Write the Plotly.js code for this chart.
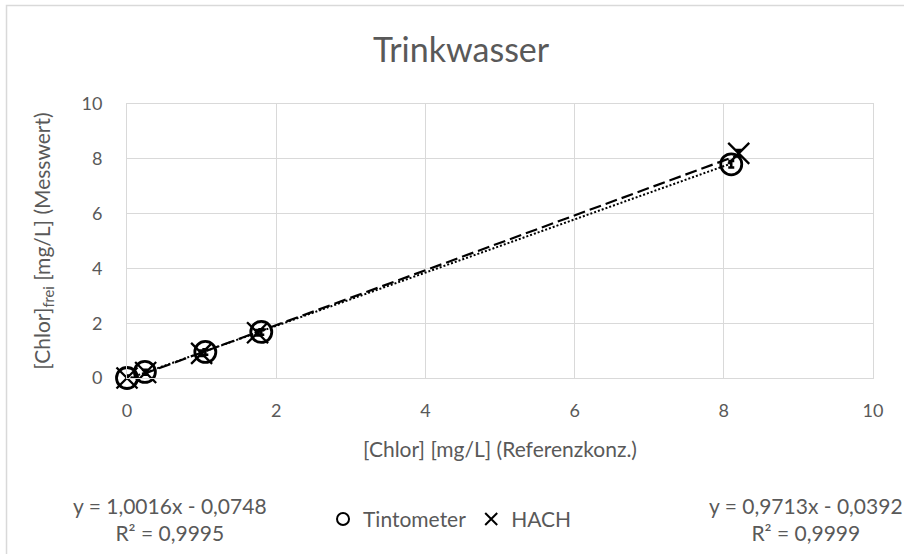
<!DOCTYPE html>
<html>
<head>
<meta charset="utf-8">
<script src="https://cdn.plot.ly/plotly-3.0.1.min.js"></script>
<style>
  html, body { margin: 0; padding: 0; background: #ffffff; }
  #chart { width: 904px; height: 554px; }
</style>
</head>
<body>
<div id="chart"></div>
<script>
// ---- data ----
const tintometerX = [0.0, 0.24, 1.05, 1.80, 8.10];
const tintometerY = [0.0, 0.22, 0.95, 1.68, 7.80];
const tintometerErr = [0.08, 0.08, 0.10, 0.10, 0.12];

const hachX = [0.0, 0.25, 1.00, 1.75, 8.20];
const hachY = [0.0, 0.20, 0.90, 1.65, 8.20];
const hachErr = [0.08, 0.08, 0.10, 0.10, 0.12];

// trendline equations as printed in the chart
const hachSlope = 1.0016, hachIntercept = -0.0748, hachR2 = 0.9995;
const tintSlope = 0.9713, tintIntercept = -0.0392, tintR2 = 0.9999;

const seriesNames = ["Tintometer", "HACH"];
const tickVals = [0, 2, 4, 6, 8, 10];
const tickText = ["0", "2", "4", "6", "8", "10"];

const FONT = "Lato, 'Open Sans', sans-serif";
const GREY = "#595959";

function deNum(v, d) { return v.toFixed(d).replace(".", ","); }
function eqText(m, b, r2) {
  const sign = b < 0 ? " - " : " + ";
  return "y = " + deNum(m, 4) + "x" + sign + deNum(Math.abs(b), 4) +
         "<br>R² = " + deNum(r2, 4);
}
function trend(xs, m, b) {
  const x0 = Math.min(...xs), x1 = Math.max(...xs);
  return { x: [x0, x1], y: [m * x0 + b, m * x1 + b] };
}

const tT = trend(tintometerX, tintSlope, tintIntercept);
const hT = trend(hachX, hachSlope, hachIntercept);

const traces = [
  { x: tT.x, y: tT.y, mode: "lines", showlegend: false, hoverinfo: "skip", cliponaxis: false,
    line: { color: "#000", width: 2, dash: "2px,2px" } },
  { x: hT.x, y: hT.y, mode: "lines", showlegend: false, hoverinfo: "skip", cliponaxis: false,
    line: { color: "#000", width: 2.2, dash: "12px,5px" } },
  { x: tintometerX, y: tintometerY, name: seriesNames[0], mode: "markers", cliponaxis: false,
    marker: { symbol: "circle-open", size: 21, color: "#000", line: { width: 2.8, color: "#000" } },
    error_y: { type: "data", array: tintometerErr, visible: true, color: "#000", thickness: 2.5, width: 3 } },
  { x: hachX, y: hachY, name: seriesNames[1], mode: "markers", cliponaxis: false,
    marker: { symbol: "x-thin-open", size: 21, color: "#000", line: { width: 2.3, color: "#000" } },
    error_y: { type: "data", array: hachErr, visible: true, color: "#000", thickness: 2.5, width: 3 } }
];

const axisCommon = {
  range: [0, 10], tickvals: tickVals, ticktext: tickText,
  showgrid: true, gridcolor: "#d9d9d9", gridwidth: 1,
  showline: true, linecolor: "#d9d9d9", linewidth: 1, mirror: true,
  zeroline: false, ticks: "outside", tickcolor: "rgba(0,0,0,0)",
  tickfont: { family: FONT, size: 18, color: GREY }
};

const layout = {
  width: 904, height: 554,
  margin: { l: 127, r: 31, t: 104, b: 176 },
  paper_bgcolor: "#ffffff", plot_bgcolor: "#ffffff",
  font: { family: FONT, color: GREY },
  title: { text: "Trinkwasser", font: { family: FONT, size: 34, color: GREY },
           xref: "container", x: 0.51, xanchor: "center",
           yref: "container", y: 0.91, yanchor: "middle" },
  xaxis: Object.assign({}, axisCommon, {
    ticklen: 16,
    title: { text: "[Chlor] [mg/L] (Referenzkonz.)", font: { family: FONT, size: 21, color: GREY }, standoff: 22 }
  }),
  yaxis: Object.assign({}, axisCommon, {
    ticklen: 20,
    title: { text: "[Chlor]<sub>frei</sub> [mg/L] (Messwert)", font: { family: FONT, size: 21, color: GREY }, standoff: 25 }
  }),
  showlegend: true,
  legend: { orientation: "h", x: 0.433, xanchor: "center", y: -0.516, yanchor: "middle",
            font: { family: FONT, size: 21, color: GREY }, bgcolor: "rgba(0,0,0,0)",
            itemsizing: "constant", itemwidth: 30, traceorder: "normal" },
  annotations: [
    { xref: "paper", yref: "paper", x: 0.058, y: -0.516, xanchor: "center", yanchor: "middle",
      text: eqText(hachSlope, hachIntercept, hachR2), showarrow: false, align: "center",
      font: { family: FONT, size: 21, color: GREY } },
    { xref: "paper", yref: "paper", x: 0.91, y: -0.516, xanchor: "center", yanchor: "middle",
      text: eqText(tintSlope, tintIntercept, tintR2), showarrow: false, align: "center",
      font: { family: FONT, size: 21, color: GREY } }
  ],
  shapes: [
    { type: "rect", xref: "paper", yref: "paper", x0: -0.1615, x1: 1.3, y0: -1.5, y1: 1.3595,
      line: { color: "#d9d9d9", width: 1.5 }, fillcolor: "rgba(0,0,0,0)", layer: "below" }
  ]
};

Plotly.newPlot("chart", traces, layout, { displayModeBar: false, staticPlot: true });
</script>
</body>
</html>
